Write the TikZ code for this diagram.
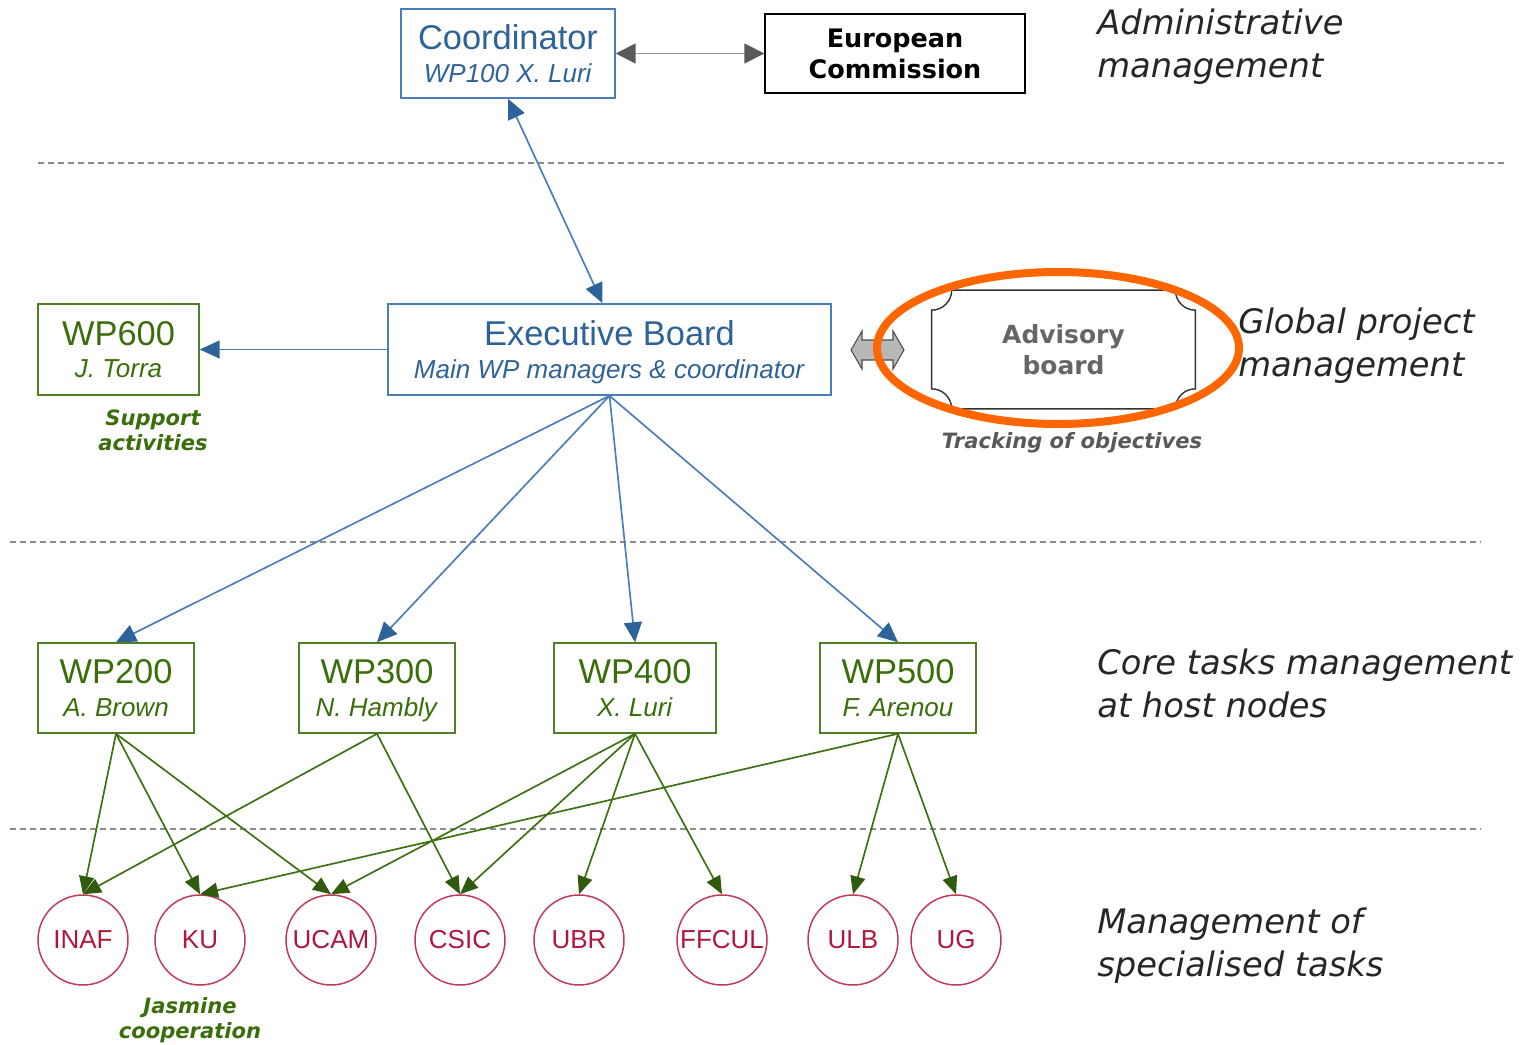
\documentclass[tikz,border=0pt]{standalone}
\usepackage{fontspec}
\setmainfont{Liberation Sans}
\newfontfamily\verdana{DejaVu Sans}
\usetikzlibrary{positioning,arrows.meta}

\definecolor{boxblue}{HTML}{4A7EBB}
\definecolor{textblue}{HTML}{2E6399}
\definecolor{boxgreen}{HTML}{4E7F22}
\definecolor{textgreen}{HTML}{3A6E0A}
\definecolor{arrowgreen}{HTML}{3C7010}
\definecolor{partnerred}{HTML}{C23A5A}
\definecolor{textred}{HTML}{B0173F}
\definecolor{ringorange}{HTML}{FF6600}

\newcommand\boxtitle[1]{{\fontsize{19.6}{18.5}\selectfont #1}}
\newcommand\boxsub[1]{\raisebox{0pt}[\height][0pt]{\textit{#1}}}

\tikzset{
  bluebox/.style={draw=boxblue, line width=0.85pt, text=textblue, inner sep=0pt, align=center,
    font=\fontsize{14.8}{18.5}\selectfont, minimum height=1.8cm},
  greenbox/.style={draw=boxgreen, line width=0.85pt, text=textgreen, inner sep=0pt, align=center,
    font=\fontsize{14.8}{18.5}\selectfont, minimum height=1.8cm, minimum width=3.12cm},
  partner/.style={circle, draw=partnerred, line width=0.85pt, text=textred, inner sep=0pt,
    minimum size=1.8cm, font=\fontsize{14.8}{17}\selectfont},
  layer/.style={anchor=west, align=left, inner sep=0pt, text=black!85,
    font=\verdana\itshape\fontsize{19.2}{24.5}\selectfont},
  remark/.style={align=center, font=\verdana\bfseries\itshape\fontsize{12}{14.2}\selectfont},
  blueflow/.style={draw=boxblue, line width=0.95pt, -{Triangle[length=0.4cm,width=0.36cm,color=textblue]}},
  greenflow/.style={draw=arrowgreen, line width=0.95pt, -{Triangle[length=0.36cm,width=0.3cm,color=arrowgreen!80!black]}},
  grayflow/.style={draw=black!40, line width=1pt,
    {Triangle[length=0.4cm,width=0.4cm,color=black!65]}-{Triangle[length=0.4cm,width=0.4cm,color=black!65]}},
  sepline/.style={draw=black!45, line width=0.6pt, dash pattern=on 0.12cm off 0.08cm}
}

\begin{document}
\begin{tikzpicture}[x=0.02cm,y=-0.02cm]
\useasboundingbox (0,0) rectangle (1530,1044);

% layer separators
\draw[sepline] (38,163) -- (1507,163);
\draw[sepline] (10,542) -- (1480,542);
\draw[sepline] (10,829) -- (1480,829);

% administrative level
\node[bluebox, minimum width=4.28cm, minimum height=1.78cm] (coord) at (508,53.5)
  {\boxtitle{Coordinator}\\\boxsub{WP100 X. Luri}};
\node[draw=black, line width=0.85pt, inner sep=0pt, align=center, minimum width=5.2cm,
  minimum height=1.58cm, font=\verdana\bfseries\fontsize{14.5}{17.6}\selectfont] (ec) at (895,53.5)
  {European\\Commission};
\draw[grayflow] (coord.east) -- (ec.west);

% global level
\node[bluebox, minimum width=8.86cm, minimum height=1.82cm] (exec) at (609.5,349.5)
  {\boxtitle{Executive Board}\\\boxsub{Main WP managers \& coordinator}};
\node[greenbox, minimum width=3.22cm, minimum height=1.82cm] (wp600) at (118.5,349.5)
  {\boxtitle{WP600}\\\boxsub{J. Torra}};
\node[remark, text=textgreen] (support) at (153,430) {Support\\activities};
\node[minimum width=5.26cm, minimum height=2.36cm, inner sep=0pt, align=center, text=black!60,
  font=\verdana\bfseries\fontsize{14.2}{17.6}\selectfont] (adv) at (1063.5,349.5) {Advisory\\board};
\draw[black!80, line width=0.8pt] ([xshift=0.4cm]adv.north west) -- ([xshift=-0.4cm]adv.north east)
  arc[start angle=180, end angle=270, radius=0.4cm] -- ([yshift=0.4cm]adv.south east)
  arc[start angle=90, end angle=180, radius=0.4cm] -- ([xshift=0.4cm]adv.south west)
  arc[start angle=0, end angle=90, radius=0.4cm] -- ([yshift=-0.4cm]adv.north west)
  arc[start angle=270, end angle=360, radius=0.4cm] -- cycle;
\node[remark, text=black!65, font=\verdana\itshape\fontsize{12}{14.2}\selectfont\bfseries] (track) at (1072,443)
  {Tracking of objectives};
\draw[fill=black!28, draw=black!70, line width=0.6pt] (851,350) -- (862,331) -- (862,340) -- (893,340)
  -- (893,331) -- (904,350) -- (893,369) -- (893,360) -- (862,360) -- (862,369) -- cycle;
\draw[ringorange, line width=0.16cm] (1058,348) ellipse [x radius=181, y radius=76];

\draw[blueflow, {Triangle[length=0.4cm,width=0.36cm,color=textblue]}-{Triangle[length=0.4cm,width=0.36cm,color=textblue]}]
  (coord.south) -- ([xshift=-0.14cm]exec.north);
\draw[blueflow] (exec.west) -- (wp600.east);

% core tasks level
\node[greenbox] (wp200) at (116,688) {\boxtitle{WP200}\\\boxsub{A. Brown}};
\node[greenbox] (wp300) at (377,688) {\boxtitle{WP300}\\\boxsub{N. Hambly}};
\node[greenbox, minimum width=3.24cm] (wp400) at (635,688) {\boxtitle{WP400}\\\boxsub{X. Luri}};
\node[greenbox] (wp500) at (898,688) {\boxtitle{WP500}\\\boxsub{F. Arenou}};
\foreach \wp in {wp200,wp300,wp400,wp500}
  \draw[blueflow] (exec.south) -- (\wp.north);

% specialised tasks level
\foreach \name/\x in {INAF/83,KU/200,UCAM/331,CSIC/460,UBR/579,FFCUL/722,ULB/853,UG/956}
  \node[partner] (\name) at (\x,940) {\name};
\foreach \wp/\name in {wp200/INAF,wp200/KU,wp200/UCAM,wp300/INAF,wp300/CSIC,wp400/UCAM,
    wp400/CSIC,wp400/UBR,wp400/FFCUL,wp500/KU,wp500/ULB,wp500/UG}
  \draw[greenflow] (\wp.south) -- (\name.north);
\node[remark, text=textgreen] (jasmine) at (190,1020) {Jasmine\\cooperation};

% level captions
\node[layer] (admin) at (1097,46.5) {Administrative\\management};
\node[layer] (global) at (1238,346) {Global project\\management};
\node[layer] (core) at (1097,683.5) {Core tasks management\\at host nodes};
\node[layer] (spec) at (1097,946) {Management of\\specialised tasks};
\end{tikzpicture}
\end{document}
